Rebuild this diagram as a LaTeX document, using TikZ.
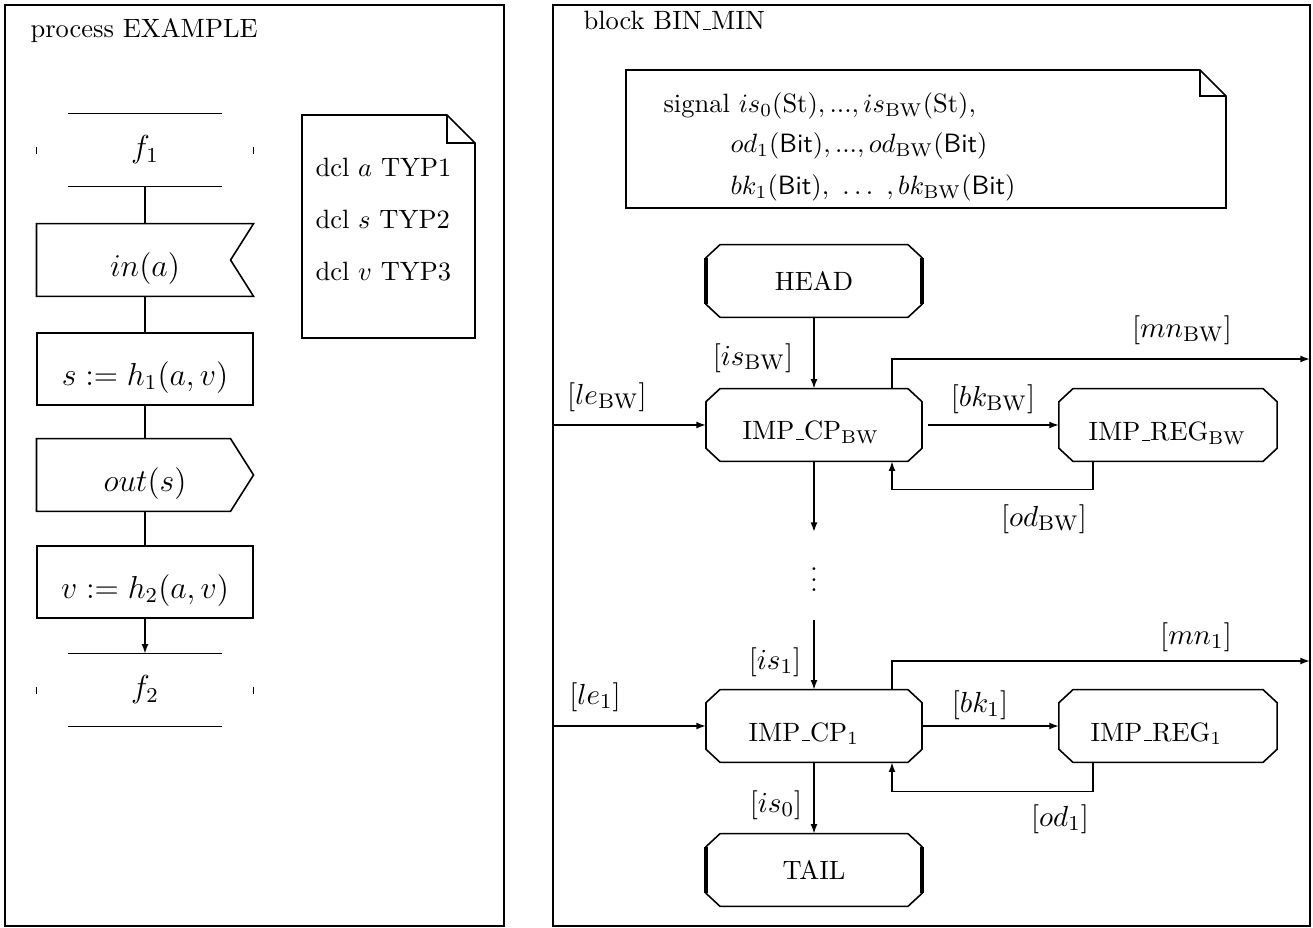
\documentclass[tikz,border=0pt]{standalone}
\usetikzlibrary{calc}
\usetikzlibrary{arrows.meta}
\usetikzlibrary{positioning}

\newcommand{\us}{\leavevmode\kern.06em\vbox{\hrule width.3em}}
\newcommand{\octagon}[1]{%
  \draw[conn] ($(#1.north west)+(14,0)$) -- ($(#1.north east)+(-14,0)$)
    -- ($(#1.north east)+(0,13)$) -- ($(#1.south east)+(0,-13)$)
    -- ($(#1.south east)+(-14,0)$) -- ($(#1.south west)+(14,0)$)
    -- ($(#1.south west)+(0,-13)$) -- ($(#1.north west)+(0,13)$) -- cycle;}
\newcommand{\statemark}[1]{%
  \draw[conn] ($(#1.north west)+(32,0)$) -- ($(#1.north east)+(-32,0)$);
  \draw[conn] ($(#1.south west)+(32,0)$) -- ($(#1.south east)+(-32,0)$);
  \draw[conn] ($(#1.west)+(0,-3)$) -- ($(#1.west)+(0,4)$);
  \draw[conn] ($(#1.east)+(0,-3)$) -- ($(#1.east)+(0,4)$);}

\begin{document}
\begin{tikzpicture}[x=0.01326cm, y=-0.01326cm,
    conn/.style={line width=0.6pt},
    arr/.style={conn, -{Latex[length=3.6pt,width=2.6pt]}},
    frame/.style={line width=1pt},
    blank/.style={minimum width=81.5pt, minimum height=27pt, inner sep=0pt, font=\large},
    lowtext/.style={text height=12.2pt, text depth=0pt},
    octo/.style={minimum width=81.1pt, minimum height=27pt, inner sep=0pt},
    sigl/.style={font=\fontsize{11}{13}\selectfont},
    impl/.style={anchor=base west, inner sep=0}]

\useasboundingbox (0,0) rectangle (1313,928);

% the two frames
\draw[frame] (5,5) rectangle (504,926);
\draw[frame] (553,5) rectangle (1310,926);
\node[anchor=base west, inner sep=0] (ptitle) at (30,38) {process EXAMPLE};
\node[anchor=base west, inner sep=0] (btitle) at (583,30) {block BIN\us MIN};

% process EXAMPLE
\node[blank] (f1) at (145,150) {$f_1$};
\statemark{f1}
\node[blank, lowtext] (inp) at (145,260) {$in(a)$};
\draw[conn] (inp.north west) -- (inp.north east) -- ($(inp.east)+(-23,0)$)
  -- (inp.south east) -- (inp.south west) -- cycle;
\node[blank, lowtext, draw, conn] (task1) at (145,369) {$s := h_1(a,v)$};
\node[blank, lowtext] (outp) at (145,475) {$out(s)$};
\draw[conn] (outp.north west) -- ($(outp.north east)+(-23,0)$) -- (outp.east)
  -- ($(outp.south east)+(-23,0)$) -- (outp.south west) -- cycle;
\node[blank, lowtext, draw, conn] (task2) at (145,582) {$v := h_2(a,v)$};
\node[blank] (f2) at (145,690) {$f_2$};
\statemark{f2}

\draw[conn] (f1.south) -- (inp.north);
\draw[conn] (inp.south) -- (task1.north);
\draw[conn] (task1.south) -- (outp.north);
\draw[conn] (outp.south) -- (task2.north);
\draw[arr] (task2.south) -- (f2.north);

% declarations
\draw[conn] (302,115) -- (447,115) -- (475,143) -- (475,338) -- (302,338) -- cycle;
\draw[conn] (447,115) -- (447,143) -- (475,143);
\node[anchor=base west, inner sep=0] (dcla) at (315,177) {dcl $a$ TYP1};
\node[anchor=base west, inner sep=0] (dcls) at (315,229) {dcl $s$ TYP2};
\node[anchor=base west, inner sep=0] (dclv) at (315,281) {dcl $v$ TYP3};

% signals
\draw[conn] (626,70) -- (1200,70) -- (1226,96) -- (1226,208) -- (626,208) -- cycle;
\draw[conn] (1200,70) -- (1200,96) -- (1226,96);
\node[anchor=base west, inner sep=0] (sigis) at (663,113)
  {signal $is_0(\mathrm{St}), ..., is_{\rm BW}(\mathrm{St})$,};
\node[anchor=base west, inner sep=0] (sigod) at (730,153)
  {$od_1(\textsf{Bit}), ..., od_{\rm BW}(\textsf{Bit})$};
\node[anchor=base west, inner sep=0] (sigbk) at (730,195)
  {$bk_1(\textsf{Bit}),\ \ldots\ , bk_{\rm BW}(\textsf{Bit})$};

% block BIN_MIN
\node[octo] (head) at (814,281) {HEAD};
\node[octo] (cpbw) at (814,425) {};
\node[octo, minimum width=81.9pt] (regbw) at (1168,425) {};
\node (dots) at (814,572) {$\vdots$};
\node[octo] (cp1) at (814,726) {};
\node[octo, minimum width=81.9pt] (reg1) at (1168,726) {};
\node[octo] (tail) at (814,870) {TAIL};
\foreach \n in {head,cpbw,regbw,cp1,reg1,tail} {\octagon{\n}}
\foreach \n in {head,tail} {
  \draw[line width=1.2pt] ($(\n.north west)+(0,13)$) -- ($(\n.south west)+(0,-13)$);
  \draw[line width=1.2pt] ($(\n.north east)+(0,13)$) -- ($(\n.south east)+(0,-13)$);}
\node[impl] (tcpbw) at (742,440) {IMP\us CP$_{\rm BW}$};
\node[impl] (tregbw) at (1088,441) {IMP\us REG$_{\rm BW}$};
\node[impl] (tcp1) at (748,741) {IMP\us CP$_1$};
\node[impl] (treg1) at (1090,741) {IMP\us REG$_1$};

\coordinate (lebw) at (553,425);
\coordinate (le1) at (553,726);
\coordinate (mnbw) at (1310,359);
\coordinate (mn1) at (1310,661);
\coordinate (dotsin) at (814,532);
\coordinate (dotsout) at (814,620);

\draw[arr] (head.south) -- (cpbw.north);
\draw[arr] (lebw) -- (cpbw.west);
\draw[arr] ($(cpbw.east)+(6,0)$) -- (regbw.west);
\draw[arr] ($(cpbw.north)+(78,0)$) |- (mnbw);
\draw[arr] ($(regbw.south)+(-75,0)$) |- ($(cpbw.south)+(78,28)$) -- ($(cpbw.south)+(78,0)$);
\draw[arr] (cpbw.south) -- (dotsin);
\draw[arr] (dotsout) -- (cp1.north);
\draw[arr] (le1) -- (cp1.west);
\draw[arr] (cp1.east) -- (reg1.west);
\draw[arr] ($(cp1.north)+(78,0)$) |- (mn1);
\draw[arr] ($(reg1.south)+(-75,0)$) |- ($(cp1.south)+(78,29)$) -- ($(cp1.south)+(78,0)$);
\draw[arr] (cp1.south) -- (tail.north);

% signal labels
\node[sigl] (lisbw) at (753,358) {$[is_{\rm BW}]$};
\node[sigl] (llebw) at (607,397) {$[le_{\rm BW}]$};
\node[sigl] (lbkbw) at (993,399) {$[bk_{\rm BW}]$};
\node[sigl] (lmnbw) at (1182,330) {$[mn_{\rm BW}]$};
\node[sigl] (lodbw) at (1044,519) {$[od_{\rm BW}]$};
\node[sigl] (lis1) at (775,662) {$[is_1]$};
\node[sigl] (lle1) at (595,697) {$[le_1]$};
\node[sigl] (lbk1) at (980,705) {$[bk_1]$};
\node[sigl] (lmn1) at (1196,637) {$[mn_1]$};
\node[sigl] (lod1) at (1060,819) {$[od_1]$};
\node[sigl] (lis0) at (776,805) {$[is_0]$};

\end{tikzpicture}
\end{document}
